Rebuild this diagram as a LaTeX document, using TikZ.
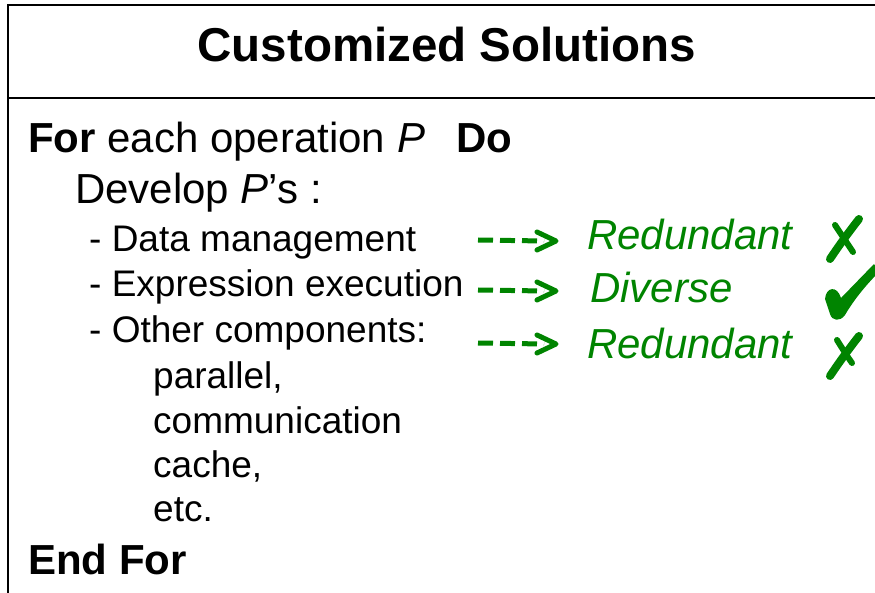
\documentclass[tikz,border=0pt]{standalone}
\usepackage{fontspec}
\setmainfont{Liberation Sans}
\usetikzlibrary{calc}
\definecolor{okgreen}{RGB}{0,132,0}
\tikzset{
  frame/.style={line width=2pt, black},
  big/.style={anchor=base west, inner sep=0pt, font=\fontsize{42}{50}\selectfont},
  small/.style={anchor=base west, inner sep=0pt, font=\fontsize{37}{44}\selectfont},
  verdict/.style={anchor=base west, inner sep=0pt, text=okgreen, font=\fontsize{42}{50}\selectfont\itshape},
  maps/.style={okgreen, line width=5pt, dash pattern=on 15pt off 7pt},
  chevron/.style={okgreen, line width=5pt, line cap=round, line join=round},
  crossstroke/.style={okgreen, line cap=round, line join=round}
}
\newcommand{\greenarrow}[2]{%
  \draw[maps] (#1) -- ($(#2)+(-12,0)$);
  \draw[chevron] ($(#2)+(-19,-9)$) -- (#2) -- ($(#2)+(-19,9)$);}
\begin{document}
\begin{tikzpicture}[x=1pt, y=-1pt]
\useasboundingbox (0,0) rectangle (875,593);

% frame: title bar and body
\draw[frame] (890,5) -- (8,5) -- (8,600);
\draw[frame] (8,98) -- (890,98);

% title
\node[anchor=base, inner sep=0pt, font=\fontsize{47.5}{55}\selectfont\bfseries] (title) at (447,62) {Customized Solutions};

% loop body
\node[big] (for) at (28,153) {\textbf{For} each operation \textit{P}\hspace{31pt}\textbf{Do}};
\node[big] (dev) at (75,204) {Develop \textit{P}’s :};
\node[small] (dm) at (89,252) {- Data management};
\node[small] (ee) at (89,297) {- Expression execution};
\node[small] (oc) at (89,342) {- Other components:};
\node[small] (par) at (153,388) {parallel,};
\node[small] (com) at (153,433) {communication};
\node[small] (cac) at (153,477) {cache,};
\node[small] (etc) at (153,521) {etc.};
\node[big] (end) at (28,574) {\textbf{End For}};

% verdicts
\node[verdict] (v1) at (587,250) {Redundant};
\node[verdict] (v2) at (590,303) {Diverse};
\node[verdict] (v3) at (587,359) {Redundant};

% brush-style cross marks
\draw[crossstroke, line width=8pt] (859,219) .. controls (848,233) and (838,247) .. (830,259);
\draw[crossstroke, line width=6pt] (835,225) .. controls (841,234) and (847,243) .. (853,252);
\draw[crossstroke, line width=8pt] (859,336) .. controls (848,350) and (838,364) .. (830,376);
\draw[crossstroke, line width=6pt] (837,340) .. controls (842,348) and (847,356) .. (852,363);

% heavy check mark
\fill[okgreen] (825,299) .. controls (826,287) and (837,285) .. (841,298)
  -- (874,264) -- (879,272)
  .. controls (863,288) and (852,303) .. (845,315)
  .. controls (840,322) and (832,321) .. (830,314) -- cycle;

% arrows from components to verdicts
\coordinate (a1s) at (478,240); \coordinate (a1e) at (556,241);
\coordinate (a2s) at (478,290); \coordinate (a2e) at (556,291);
\coordinate (a3s) at (478,343); \coordinate (a3e) at (556,344);
\greenarrow{a1s}{a1e}
\greenarrow{a2s}{a2e}
\greenarrow{a3s}{a3e}
\end{tikzpicture}
\end{document}
